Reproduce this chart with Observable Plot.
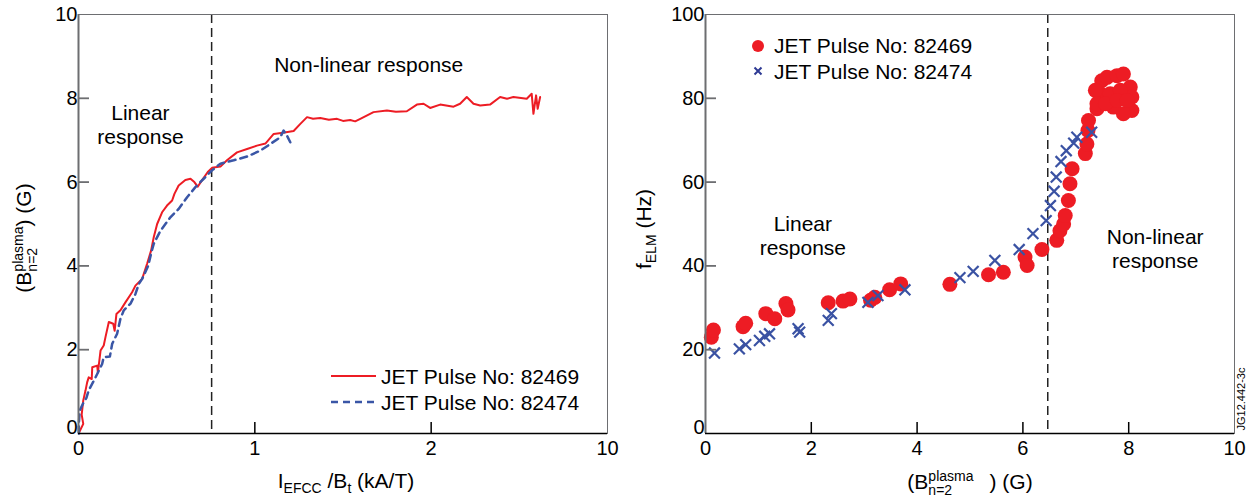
<!DOCTYPE html>
<html><head><meta charset="utf-8">
<script src="https://cdn.jsdelivr.net/npm/d3@7"></script>
<script src="https://cdn.jsdelivr.net/npm/@observablehq/plot@0.6"></script>
<style>
body{margin:0;background:#fff;font-family:"Liberation Sans",Arial,Helvetica,sans-serif;color:#000}
#wrap{position:relative;width:1258px;height:501px;overflow:hidden}
#wrap svg.plot{position:absolute;top:0}
.abs{position:absolute;white-space:nowrap;font-size:21px;line-height:1}
.rot{transform:translate(-50%,-50%) rotate(-90deg)}
.ctr{transform:translate(-50%,-50%)}
.st{display:inline-block;vertical-align:-6px;font-size:14px;line-height:14px;text-align:left}
.st span{display:block}
.sb{font-size:14px;vertical-align:-5px}
.leg{display:flex;align-items:center;height:26px}
</style></head><body><div id="wrap"></div><script>
// ---------- data ----------
// Left panel: B_n=2^plasma (G) vs I_EFCC/B_t (kA/T)
const leftXTicks = [0, 1, 2, 3];
const leftXTickLabels = ["0", "1", "2", "10"];
const leftYTicks = [0, 2, 4, 6, 8, 10];
const leftThreshold = 0.755;

const pulse82469X = [0.004,0.027,0.018,0.027,0.04,0.049,0.058,0.075,0.078,0.106,0.11,0.125,0.143,0.153,0.172,0.197,0.205,0.215,0.238,0.266,0.304,0.323,0.361,0.389,0.412,0.427,0.446,0.474,0.502,0.531,0.544,0.568,0.606,0.635,0.657,0.676,0.70,0.733,0.757,0.805,0.842,0.899,0.956,1.012,1.060,1.107,1.16,1.22,1.258,1.296,1.33,1.371,1.42,1.466,1.50,1.541,1.569,1.598,1.673,1.749,1.80,1.862,1.919,1.957,1.994,2.051,2.127,2.164,2.202,2.24,2.278,2.334,2.391,2.43,2.466,2.542,2.570,2.58,2.595,2.604,2.618];
const pulse82469Y = [0.03,0.23,0.45,0.79,1.03,1.22,1.34,1.30,1.58,1.62,1.45,1.98,2.10,2.30,2.66,2.62,2.45,2.85,2.94,3.13,3.37,3.53,3.69,4.05,4.37,4.69,5.0,5.28,5.44,5.56,5.72,5.92,6.05,6.08,6.0,5.89,6.04,6.24,6.34,6.37,6.52,6.71,6.79,6.87,6.92,7.15,7.18,7.22,7.39,7.55,7.51,7.53,7.49,7.51,7.46,7.48,7.45,7.51,7.67,7.71,7.68,7.69,7.85,7.87,7.77,7.85,7.80,7.87,8.03,7.87,7.83,7.85,8.03,7.99,8.03,7.99,8.11,7.63,8.07,7.75,8.03];

const pulse82474X = [0.002,0.002,0.007,0.03,0.045,0.058,0.087,0.106,0.134,0.143,0.178,0.191,0.219,0.238,0.257,0.295,0.323,0.342,0.361,0.395,0.412,0.427,0.465,0.521,0.568,0.616,0.663,0.71,0.757,0.805,0.88,0.956,1.031,1.088,1.144,1.163,1.182,1.201];
const pulse82474Y = [0.0,0.23,0.55,0.75,0.85,1.03,1.26,1.42,1.66,1.82,1.84,2.14,2.38,2.74,2.94,3.10,3.33,3.57,3.69,4.0,4.3,4.53,4.84,5.16,5.36,5.64,5.88,6.08,6.28,6.44,6.52,6.61,6.75,6.91,7.07,7.23,7.11,6.95];

// Right panel: f_ELM (Hz) vs B_n=2^plasma (G)
const rightXTicks = [0, 2, 4, 6, 8, 10];
const rightYTicks = [0, 20, 40, 60, 80, 100];
const rightThreshold = 6.47;

const elm82469B = [0.11,0.15,0.71,0.76,1.14,1.31,1.52,1.56,2.32,2.60,2.73,3.12,3.20,3.48,3.69,4.62,5.35,5.63,6.04,6.08,6.36,6.64,6.70,6.77,6.80,6.86,6.89,6.93,7.18,7.21,7.23,7.24,7.40,7.46,7.49,7.46,7.59,7.78,7.90,8.03,8.06,8.06,7.90,7.71,7.65,7.84,7.37,7.40,7.56,7.78,7.97];
const elm82469F = [23.0,24.7,25.5,26.3,28.6,27.4,31.0,29.5,31.2,31.6,32.1,31.8,32.5,34.3,35.7,35.6,37.9,38.5,42.1,40.1,43.9,46.1,48.4,50.0,52.0,55.6,59.6,63.2,66.8,69.1,72.3,74.7,77.5,79.5,84.2,81.1,85.0,85.4,85.8,82.7,80.3,77.1,76.3,77.9,81.1,81.9,81.9,78.7,78.7,79.5,79.5];

const elm82474B = [0.17,0.64,0.76,1.02,1.12,1.21,1.75,1.78,2.32,2.38,3.07,3.26,3.77,4.81,5.06,5.47,5.93,6.19,6.44,6.52,6.59,6.63,6.72,6.82,6.96,7.02,7.30];
const elm82474F = [19.2,20.2,21.2,22.2,23.2,23.8,25.0,24.2,27.0,28.6,31.3,32.9,34.3,37.2,38.7,41.3,43.9,47.7,50.8,54.4,57.8,61.2,64.9,67.5,69.3,70.7,71.9];

const leftNotes = [
  {x: 0.351, y: 7.37, t: "Linear\nresponse"},
  {x: 1.646, y: 8.82, t: "Non-linear response"}
];
const rightNotes = [
  {x: 1.84, y: 47.3, t: "Linear\nresponse"},
  {x: 8.50, y: 44.2, t: "Non-linear\nresponse"}
];
const legendLabels = ["JET Pulse No: 82469", "JET Pulse No: 82474"];

// ---------- styles ----------
const RED = "#ed1c24", BLUE = "#3a56a6", CROSS = "#3a52a3", GREY = "#6d6e71";
const FONT = '"Liberation Sans", Arial, Helvetica, sans-serif';
const W = 629, H = 501, MT = 14, MB = 68, TICK = 11;

const zipXY = (xs, ys) => xs.map((x, i) => ({x, y: ys[i]}));
const redLine = zipXY(pulse82469X, pulse82469Y);
const blueLine = zipXY(pulse82474X, pulse82474Y);
const redDots = zipXY(elm82469B, elm82469F);
const blueCrosses = zipXY(elm82474B, elm82474F);

const common = {width: W, height: H, marginTop: MT, marginBottom: MB,
  style: {fontFamily: FONT, fontSize: "20px", color: "#000", background: "transparent", overflow: "visible"}};

function frameMarks(ml, mr, xTicks, yTicks, fmt) {
  const fw = W - ml - mr, fh = H - MT - MB;
  const x0 = xTicks[0], x1 = xTicks[xTicks.length - 1];
  const y0 = yTicks[0], y1 = yTicks[yTicks.length - 1];
  const tx = (x1 - x0) * TICK / fw, ty = (y1 - y0) * TICK / fh; // tick length in data units
  const inner = a => a.slice(1, -1);
  return [
    Plot.frame({stroke: GREY, strokeWidth: 1}),
    Plot.ruleX([x0], {stroke: GREY, strokeWidth: 2}),
    Plot.ruleY([y0], {stroke: "#000", strokeWidth: 1.5}),
    // inward tick marks
    Plot.ruleX(inner(xTicks), {x: d => d, y1: y0, y2: y0 + ty, stroke: "#000", strokeWidth: 1.5}),
    Plot.ruleY(inner(yTicks), {y: d => d, x1: x0, x2: x0 + tx, stroke: GREY, strokeWidth: 1.8}),
    // tick labels
    Plot.axisX(xTicks, {tickSize: 0, tickPadding: 7, fontSize: 20, tickFormat: fmt, label: null}),
    Plot.axisY(yTicks.slice(1), {tickSize: 0, tickPadding: 1, fontSize: 20, label: null}),
    Plot.axisY(yTicks.slice(0, 1), {tickSize: 0, tickPadding: 1, dy: -6, fontSize: 20, label: null})
  ];
}

const left = Plot.plot({
  ...common, marginLeft: 78, marginRight: 22,
  x: {domain: [0, 3]}, y: {domain: [0, 10]},
  marks: [
    Plot.ruleX([leftThreshold], {stroke: "#222", strokeWidth: 1.5, strokeDasharray: "9,5"}),
    Plot.line(redLine, {x: "x", y: "y", stroke: RED, strokeWidth: 2}),
    Plot.line(blueLine, {x: "x", y: "y", stroke: BLUE, strokeWidth: 2.5, strokeDasharray: "7,5"}),
    ...frameMarks(78, 22, leftXTicks, leftYTicks, d => leftXTickLabels[leftXTicks.indexOf(d)]),
    Plot.text(leftNotes, {x: "x", y: "y", text: "t", fontSize: 21, lineHeight: 1.15, fill: "#000"})
  ]
});

const right = Plot.plot({
  ...common, marginLeft: 76, marginRight: 24,
  x: {domain: [0, 10]}, y: {domain: [0, 100]},
  marks: [
    Plot.ruleX([rightThreshold], {stroke: "#222", strokeWidth: 1.5, strokeDasharray: "9,5"}),
    Plot.dot(redDots, {x: "x", y: "y", r: 7.5, fill: RED, stroke: "none"}),
    Plot.dot(blueCrosses, {x: "x", y: "y", r: 5, symbol: "times", stroke: CROSS, strokeWidth: 2.2}),
    ...frameMarks(76, 24, rightXTicks, rightYTicks, d => String(d)),
    Plot.text(rightNotes, {x: "x", y: "y", text: "t", fontSize: 21, lineHeight: 1.15, fill: "#000"})
  ]
});

const wrap = document.getElementById("wrap");
left.classList.add("plot"); right.classList.add("plot");
left.style.left = "0px"; right.style.left = "629px";
wrap.appendChild(left); wrap.appendChild(right);

function add(html, css, cls) {
  const d = document.createElement("div");
  d.className = "abs " + (cls || "");
  d.innerHTML = html;
  Object.assign(d.style, css);
  wrap.appendChild(d);
  return d;
}
// axis titles
add('(B<span class="st"><span>plasma</span><span>n=2</span></span>) (G)', {left: "25px", top: "238px"}, "rot");
add('I<span class="sb">EFCC</span> /B<span class="sb">t</span> (kA/T)', {left: "346px", top: "482px"}, "ctr");
add('f<span class="sb">ELM</span> (Hz)', {left: "645px", top: "229px"}, "rot");
add('(B<span class="st"><span>plasma</span><span>n=2</span></span><span style="margin-left:16px">) (G)</span>', {left: "970px", top: "483px"}, "ctr");
add('JG12.442-3c', {left: "1241px", top: "399px", fontSize: "11px"}, "rot");

// legends
add(`<div class="leg"><svg width="46" height="6"><line x1="0" y1="3" x2="45" y2="3" stroke="${RED}" stroke-width="2"/></svg><span style="margin-left:4px">${legendLabels[0]}</span></div>
<div class="leg"><svg width="46" height="6"><line x1="0" y1="3" x2="45" y2="3" stroke="${BLUE}" stroke-width="2.5" stroke-dasharray="7,5"/></svg><span style="margin-left:4px">${legendLabels[1]}</span></div>`,
  {left: "331px", top: "363px"});
add(`<div class="leg" style="height:25.5px"><svg width="14" height="14"><circle cx="7" cy="7" r="6" fill="${RED}"/></svg><span style="margin-left:9px">${legendLabels[0]}</span></div>
<div class="leg" style="height:25.5px"><svg width="14" height="14"><path d="M3.5,3.5L10.5,10.5M10.5,3.5L3.5,10.5" stroke="#2e3a94" stroke-width="2"/></svg><span style="margin-left:9px">${legendLabels[1]}</span></div>`,
  {left: "751px", top: "33px"});
</script></body></html>
